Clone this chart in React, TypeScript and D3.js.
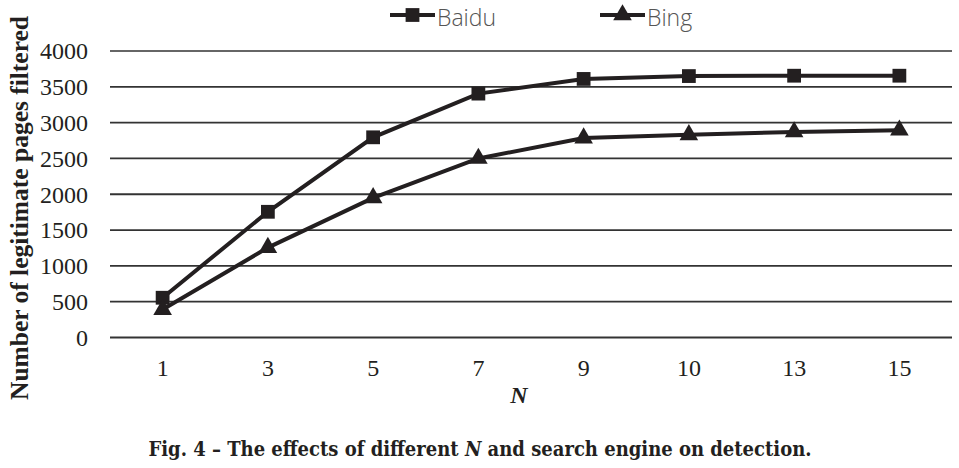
import { useEffect, useRef } from "react";
import * as d3 from "d3";

const categories = ["1", "3", "5", "7", "9", "10", "13", "15"];
const baidu = [555, 1755, 2795, 3405, 3610, 3650, 3655, 3655];
const bing = [390, 1255, 1950, 2500, 2785, 2830, 2870, 2895];
const yTicks = [0, 500, 1000, 1500, 2000, 2500, 3000, 3500, 4000];

const W = 959;
const H = 468;
const ink = "#231f20";

const App = () => {
    const svgRef = useRef<SVGSVGElement | null>(null);

    useEffect(() => {
        if (!svgRef.current) return;
        const svg = d3.select(svgRef.current);
        svg.selectAll("*").remove();

        const x = d3.scaleBand().domain(categories).range([110, 952]);
        const y = d3.scaleLinear().domain([0, 4000]).range([337.5, 51]);
        const cx = (c: string) => (x(c) as number) + x.bandwidth() / 2;

        // gridlines
        svg.append("g")
            .selectAll("line")
            .data(yTicks)
            .enter()
            .append("line")
            .attr("x1", 110)
            .attr("x2", 952)
            .attr("y1", (d) => y(d))
            .attr("y2", (d) => y(d))
            .attr("stroke", (d) => (d === 4000 ? "#666" : "#333"))
            .attr("stroke-width", 1.8);

        // y tick labels
        svg.append("g")
            .selectAll("text")
            .data(yTicks)
            .enter()
            .append("text")
            .attr("x", 88)
            .attr("y", (d) => y(d))
            .attr("dy", "0.35em")
            .attr("text-anchor", "end")
            .attr("font-family", "Liberation Serif, Times New Roman, serif")
            .attr("font-size", 24)
            .attr("fill", ink)
            .text((d) => d);

        // x tick labels
        svg.append("g")
            .selectAll("text")
            .data(categories)
            .enter()
            .append("text")
            .attr("x", (d) => cx(d))
            .attr("y", 376)
            .attr("text-anchor", "middle")
            .attr("font-family", "Liberation Serif, Times New Roman, serif")
            .attr("font-size", 24)
            .attr("fill", ink)
            .text((d) => d);

        svg.append("text")
            .attr("x", 519)
            .attr("y", 403)
            .attr("text-anchor", "middle")
            .attr("font-family", "Liberation Serif, Times New Roman, serif")
            .attr("font-size", 24)
            .attr("font-weight", "bold")
            .attr("font-style", "italic")
            .attr("fill", ink)
            .text("N");

        svg.append("text")
            .attr("transform", "translate(28,400) rotate(-90)")
            .attr("text-anchor", "start")
            .attr("font-family", "Liberation Serif, Times New Roman, serif")
            .attr("font-size", 26)
            .attr("font-weight", "bold")
            .attr("textLength", 384)
            .attr("lengthAdjust", "spacingAndGlyphs")
            .attr("fill", ink)
            .text("Number of legitimate pages filtered");

        const line = d3.line<number>()
            .x((_, i) => cx(categories[i]))
            .y((d) => y(d));

        const series = [
            { name: "Baidu", values: baidu, shape: d3.symbolSquare, size: 190 },
            { name: "Bing", values: bing, shape: d3.symbolTriangle, size: 150 },
        ];

        series.forEach((s) => {
            svg.append("path")
                .datum(s.values)
                .attr("d", line)
                .attr("fill", "none")
                .attr("stroke", ink)
                .attr("stroke-width", 4);
            svg.append("g")
                .selectAll("path")
                .data(s.values)
                .enter()
                .append("path")
                .attr("transform", (d, i) => `translate(${cx(categories[i])},${y(d)})`)
                .attr("d", d3.symbol().type(s.shape).size(s.size)())
                .attr("fill", ink);
        });

        // legend
        const legendX = [390, 600];
        series.forEach((s, i) => {
            const g = svg.append("g").attr("transform", `translate(${legendX[i]},15)`);
            g.append("line")
                .attr("x1", 0)
                .attr("x2", 45)
                .attr("stroke", ink)
                .attr("stroke-width", 4);
            g.append("path")
                .attr("transform", "translate(22.5,0)")
                .attr("d", d3.symbol().type(s.shape).size(s.size)())
                .attr("fill", ink);
            g.append("text")
                .attr("x", 47)
                .attr("y", 11)
                .attr("font-family", "Open Sans, sans-serif")
                .attr("font-weight", 300)
                .attr("font-size", 23)
                .attr("fill", "#555")
                .text(s.name);
        });

        // caption
        const cap = svg.append("text")
            .attr("x", 480)
            .attr("y", 456)
            .attr("text-anchor", "middle")
            .attr("font-family", "DejaVu Serif, serif")
            .attr("font-weight", "bold")
            .attr("font-size", 20)
            .style("font-stretch", "condensed")
            .attr("fill", ink);
        cap.append("tspan").text("Fig. 4 \u2013 The effects of different ");
        cap.append("tspan").attr("font-style", "italic").text("N");
        cap.append("tspan").text(" and search engine on detection.");
    }, []);

    return (
        <svg ref={svgRef} width={W} height={H} style={{ position: "absolute", left: 0, top: 0, background: "#fff" }} />
    );
};

export default App;
